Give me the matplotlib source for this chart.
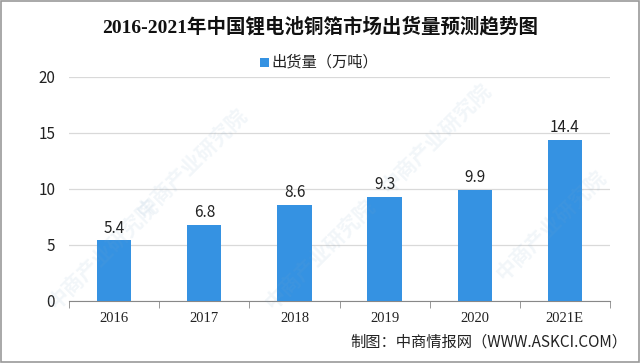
import matplotlib
matplotlib.use("Agg")
import matplotlib.pyplot as plt
from matplotlib.patches import Rectangle

categories = ["2016", "2017", "2018", "2019", "2020", "2021E"]
values = [5.4, 6.8, 8.6, 9.3, 9.9, 14.4]
yticks = [0, 5, 10, 15, 20]
title = "2016-2021年中国锂电池铜箔市场出货量预测趋势图"
legend_label = "出货量（万吨）"
source = "制图：中商情报网（WWW.ASKCI.COM）"

SERIF = ["Liberation Serif", "Noto Sans CJK SC"]
SANS = ["Noto Sans CJK SC", "DejaVu Sans"]
BAR = "#3592e2"

fig = plt.figure(figsize=(6.4, 3.63), dpi=100)
fig.patch.set_facecolor("white")
ax = fig.add_axes([0.108, 0.171, 0.845, 0.617])

x = list(range(len(categories)))
ax.bar(x, values, width=0.38, color=BAR, zorder=3)
for xi, v in zip(x, values):
    ax.text(xi, v + 0.35, f"{v:.1f}", ha="center", va="bottom",
            fontsize=11, family=SANS, color="#222222")

ax.set_xlim(-0.5, len(categories) - 0.5)
ax.set_ylim(0, 20)
ax.set_yticks(yticks)
ax.set_yticklabels([str(t) for t in yticks], family=SANS, fontsize=11, color="#222222")
ax.set_xticks(x)
ax.set_xticklabels(categories, family=SERIF, fontsize=10.5, color="#222222")
ax.tick_params(axis="y", length=0, pad=10)
ax.tick_params(axis="x", length=0, pad=8)
ax.set_xticks([i - 0.5 for i in range(len(categories) + 1)], minor=True)
ax.tick_params(axis="x", which="minor", length=5, color="#888888", direction="out")
ax.grid(axis="y", color="#d9d9d9", linewidth=0.9, zorder=0)
for s in ["top", "right", "left"]:
    ax.spines[s].set_visible(False)
ax.spines["bottom"].set_color("#888888")
ax.set_axisbelow(True)

fig.text(0.5, 0.928, title, ha="center", va="center", fontsize=14,
         fontweight="bold", family=SERIF, color="#111111")
fig.patches.append(Rectangle((0.407, 0.815), 0.013, 0.024, transform=fig.transFigure,
                             facecolor=BAR, edgecolor="none"))
fig.text(0.424, 0.828, legend_label, ha="left", va="center", fontsize=11,
         family=SANS, color="#222222")
fig.text(0.98, 0.058, source, ha="right", va="center", fontsize=11,
         family=SANS, color="#222222")

# faint watermarks
wm = "中商产业研究院"
for (wx, wy) in [(0.30, 0.55), (0.68, 0.62), (0.50, 0.30), (0.86, 0.38), (0.16, 0.30)]:
    fig.text(wx, wy, wm, ha="center", va="center", rotation=45, fontsize=15,
             family=SANS, color="#7fa7c9", alpha=0.10, fontweight="bold")

fig.patches.append(Rectangle((0.002, 0.003), 0.996, 0.994, transform=fig.transFigure,
                             facecolor="none", edgecolor="#999999", linewidth=1.2))

fig.savefig("out.png", dpi=100)
